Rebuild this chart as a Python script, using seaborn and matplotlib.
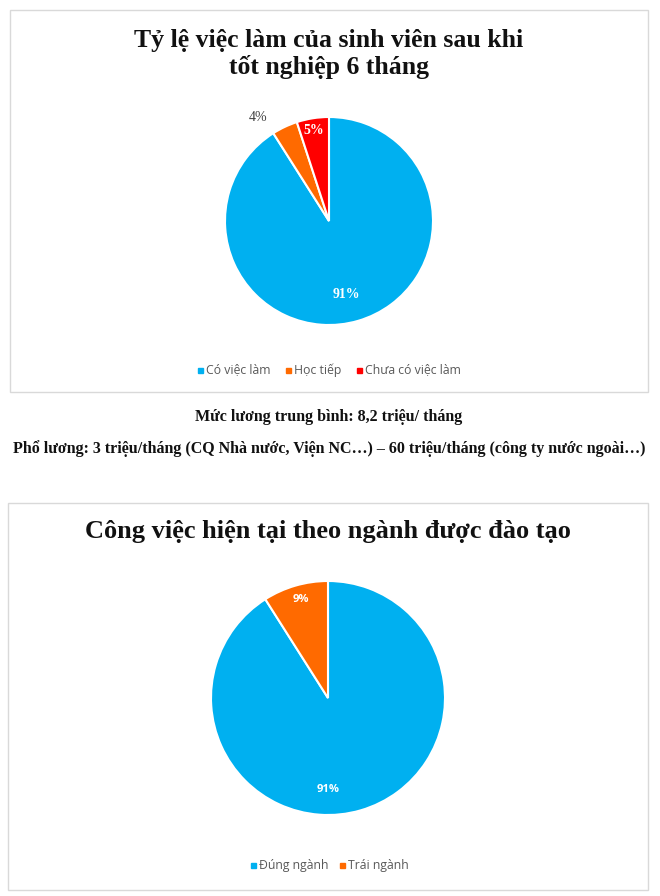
import matplotlib
matplotlib.use("Agg")
import matplotlib.pyplot as plt
import seaborn as sns
from matplotlib.patches import Rectangle

# data
emp_labels = ["Có việc làm", "Học tiếp", "Chưa có việc làm"]
emp_values = [91, 4, 5]
emp_colors = ["#00B0F0", "#FF6A00", "#FF0000"]

field_labels = ["Đúng ngành", "Trái ngành"]
field_values = [91, 9]
field_colors = ["#00B0F0", "#FF6A00"]

title_top = "Tỷ lệ việc làm của sinh viên sau khi\ntốt nghiệp 6 tháng"
title_bottom = "Công việc hiện tại theo ngành được đào tạo"
salary_avg = "Mức lương trung bình: 8,2 triệu/ tháng"
salary_range = ("Phổ lương: 3 triệu/tháng (CQ Nhà nước, Viện NC…) – "
                "60 triệu/tháng (công ty nước ngoài…)")

sns.set_theme(style="white")
W, H = 660, 896
fig = plt.figure(figsize=(W / 100, H / 100), dpi=100)
fig.patch.set_facecolor("white")

SERIF = ["Liberation Serif", "DejaVu Serif"]
SANS = ["Open Sans", "DejaVu Sans"]


def px_box(x0, y0, x1, y1):
    # pixel box (top-left origin) -> figure fraction rect
    return [x0 / W, 1 - y1 / H, (x1 - x0) / W, (y1 - y0) / H]


def frame(x0, y0, x1, y1):
    fig.patches.append(Rectangle((x0 / W, 1 - y1 / H), (x1 - x0) / W, (y1 - y0) / H,
                                 transform=fig.transFigure, fill=False,
                                 edgecolor="#D9D9D9", linewidth=1.0))


def draw_pie(cx, cy, r, values, colors):
    ax = fig.add_axes(px_box(cx - r, cy - r, cx + r, cy + r))
    ax.pie(values, colors=colors, startangle=90, counterclock=False,
           radius=1, wedgeprops=dict(edgecolor="white", linewidth=1.5))
    # pie() resets limits to +-1.25, so set them again
    ax.set_xlim(-1, 1)
    ax.set_ylim(-1, 1)
    ax.set_aspect("equal")
    ax.axis("off")
    return ax


def legend_row(y, labels, colors, xs, size=8.8):
    for lab, col, x in zip(labels, colors, xs):
        fig.patches.append(Rectangle(((x - 8) / W, 1 - (y + 2.5) / H), 5 / W, 5 / H,
                                     transform=fig.transFigure, color=col))
        fig.text(x / W, 1 - y / H, lab, ha="left", va="center",
                 fontsize=size, color="#595959", family=SANS)


# frames
frame(10, 10, 648, 392)
frame(8, 503, 648, 890)

# top chart
fig.text(329 / W, 1 - 54 / H, title_top, ha="center", va="center",
         fontsize=18.5, fontweight="bold", family=SERIF, linespacing=1.15,
         color="#111111")
ax1 = draw_pie(329, 221, 104, emp_values, emp_colors)
ax1.text(-0.68, 1.0, f"{emp_values[1]}%", ha="center", va="center",
         fontsize=10, color="#404040", family=SERIF)
ax1.text(-0.15, 0.87, f"{emp_values[2]}%", ha="center", va="center",
         fontsize=10, color="white", fontweight="bold", family=SERIF)
ax1.text(0.17, -0.71, f"{emp_values[0]}%", ha="center", va="center",
         fontsize=10, color="white", fontweight="bold", family=SERIF)
legend_row(370, emp_labels, emp_colors, [206, 294, 365])

# middle text
fig.text(329 / W, 1 - 417 / H, salary_avg, ha="center", va="center",
         fontsize=11.5, fontweight="bold", family=SERIF, color="#111111")
fig.text(329 / W, 1 - 449 / H, salary_range, ha="center", va="center",
         fontsize=11.5, fontweight="bold", family=SERIF, color="#111111")

# bottom chart
fig.text(328 / W, 1 - 531 / H, title_bottom, ha="center", va="center",
         fontsize=19, fontweight="bold", family=SERIF, color="#111111")
ax2 = draw_pie(328, 698, 117, field_values, field_colors)
ax2.text(-0.23, 0.84, f"{field_values[1]}%", ha="center", va="center",
         fontsize=8, color="white", fontweight="bold", family=SANS)
ax2.text(0.0, -0.78, f"{field_values[0]}%", ha="center", va="center",
         fontsize=8, color="white", fontweight="bold", family=SANS)
legend_row(865, field_labels, field_colors, [259, 348])

fig.savefig("out.png", dpi=100, facecolor="white")
